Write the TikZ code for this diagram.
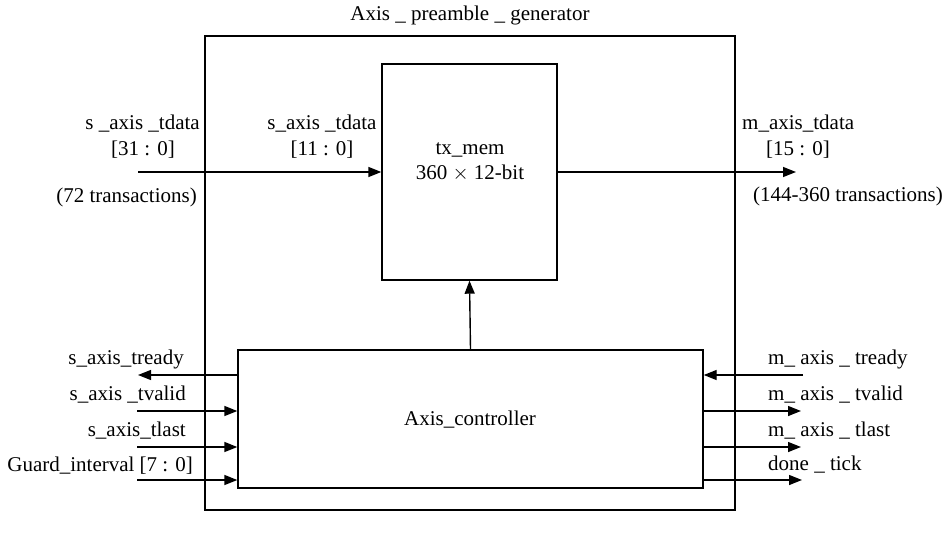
\documentclass[tikz,border=0pt]{standalone}
\usepackage{fontspec}
\setmainfont{Liberation Serif}
\usetikzlibrary{arrows.meta}
\begin{document}
\begin{tikzpicture}[x=1pt,y=-1pt,
  box/.style={draw,line width=1.4pt,minimum width=#1},
  sig/.style={line width=1.4pt,-{Triangle[length=13pt,width=10pt]}},
  lbl/.style={inner sep=0pt,font=\fontsize{21}{25}\selectfont},
]
\useasboundingbox (0,0) rectangle (949,540);

% blocks
\node[box=530pt,minimum height=474pt] (outer) at (470,273) {};
\node[box=175pt,minimum height=216pt] (txmem) at (469.5,172) {};
\node[box=465pt,minimum height=138pt] (ctrl) at (470.5,419) {};

% block texts
\node[lbl,anchor=base] (ttl) at (470,21) {Axis \_ preamble \_ generator};
\node[lbl,anchor=base] (tm1) at (470,155) {tx\_mem};
\node[lbl,anchor=base] (tm2) at (470,179) {360 $\times$ 12-bit};
\node[lbl,anchor=base] (ct) at (470,425) {Axis\_controller};

% data path
\coordinate (din) at (138,172);
\coordinate (dout) at (796,172);
\draw[sig] (din) -- (txmem.west);
\draw[sig] (txmem.east) -- (dout);
\draw[sig] (ctrl.north) -- (txmem.south);

\node[lbl,anchor=base east] (l1) at (200,130) {s \_axis \_tdata};
\node[lbl,anchor=base] (l2) at (143,156) {[31 : 0]};
\node[lbl,anchor=base east] (l3) at (197,202) {(72 transactions)};
\node[lbl,anchor=base] (l4) at (322,130) {s\_axis \_tdata};
\node[lbl,anchor=base] (l5) at (322,156) {[11 : 0]};
\node[lbl,anchor=base west] (r1) at (742,130) {m\_axis\_tdata};
\node[lbl,anchor=base] (r2) at (798,156) {[15 : 0]};
\node[lbl,anchor=base west] (r3) at (753,201) {(144-360 transactions)};

% controller handshake signals, left side
\coordinate (a1) at (138,375);
\coordinate (a2) at (137,411);
\coordinate (a3) at (137,447);
\coordinate (a4) at (137,480);
\draw[sig] (ctrl.west |- a1) -- (a1);
\draw[sig] (a2) -- (ctrl.west |- a2);
\draw[sig] (a3) -- (ctrl.west |- a3);
\draw[sig] (a4) -- (ctrl.west |- a4);
\node[lbl,anchor=base east] (la1) at (184,364) {s\_axis\_tready};
\node[lbl,anchor=base east] (la2) at (186,400) {s\_axis \_tvalid};
\node[lbl,anchor=base east] (la3) at (186,436) {s\_axis\_tlast};
\node[lbl,anchor=base east] (la4) at (193,471) {Guard\_interval [7 : 0]};

% controller handshake signals, right side
\coordinate (b1) at (803,375);
\coordinate (b2) at (801,411);
\coordinate (b3) at (801,447);
\coordinate (b4) at (802,480);
\draw[sig] (b1) -- (ctrl.east |- b1);
\draw[sig] (ctrl.east |- b2) -- (b2);
\draw[sig] (ctrl.east |- b3) -- (b3);
\draw[sig] (ctrl.east |- b4) -- (b4);
\node[lbl,anchor=base west] (rb1) at (768,364) {m\_ axis \_ tready};
\node[lbl,anchor=base west] (rb2) at (768,400) {m\_ axis \_ tvalid};
\node[lbl,anchor=base west] (rb3) at (768,436) {m\_ axis \_ tlast};
\node[lbl,anchor=base west] (rb4) at (768,470) {done \_ tick};
\end{tikzpicture}
\end{document}
